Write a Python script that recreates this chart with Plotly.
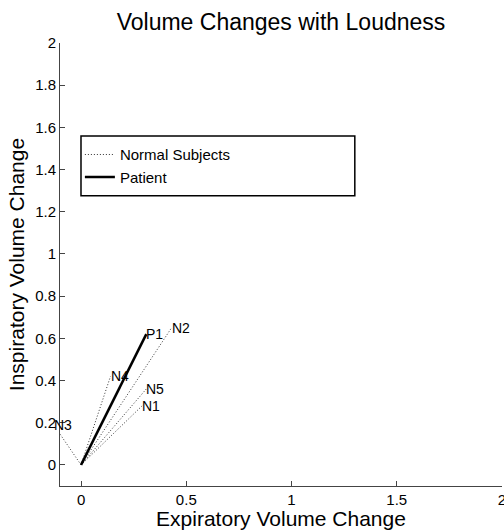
import plotly.graph_objects as go

# Data
normal_labels = ["N1", "N2", "N3", "N4", "N5"]
normal_x = [0.29, 0.43, -0.13, 0.14, 0.31]
normal_y = [0.28, 0.65, 0.19, 0.42, 0.36]
patient_labels = ["P1"]
patient_x = [0.31]
patient_y = [0.62]

x_ticks = [0, 0.5, 1, 1.5, 2]
x_ticktext = ["0", "0.5", "1", "1.5", "2"]
y_ticks = [0, 0.2, 0.4, 0.6, 0.8, 1, 1.2, 1.4, 1.6, 1.8, 2]
y_ticktext = ["0", "0.2", "0.4", "0.6", "0.8", "1", "1.2", "1.4", "1.6", "1.8", "2"]

X_RANGE = [-0.1, 2]
Y_RANGE = [-0.1, 2]

FONT = "Liberation Sans, Arial, sans-serif"

fig = go.Figure()

for i, (lab, xv, yv) in enumerate(zip(normal_labels, normal_x, normal_y)):
    fig.add_trace(go.Scatter(
        x=[0, xv], y=[0, yv], mode="lines",
        line=dict(color="#333", width=1, dash="1px,2px"),
        name="Normal Subjects", legendgroup="normal",
        showlegend=(i == 0),
    ))
for i, (lab, xv, yv) in enumerate(zip(patient_labels, patient_x, patient_y)):
    fig.add_trace(go.Scatter(
        x=[0, xv], y=[0, yv], mode="lines",
        line=dict(color="black", width=2.5),
        name="Patient", legendgroup="patient",
        showlegend=(i == 0),
    ))

for lab, xv, yv in list(zip(normal_labels, normal_x, normal_y)) + list(zip(patient_labels, patient_x, patient_y)):
    if X_RANGE[0] <= xv <= X_RANGE[1]:
        fig.add_annotation(x=xv, y=yv, xref="x", yref="y", text=lab, showarrow=False,
                           xanchor="left", yanchor="middle", xshift=-2,
                           font=dict(family=FONT, size=14, color="black"))
    else:
        # point lies outside the x-range: place label in paper coords of the same scale
        px = (xv - X_RANGE[0]) / (X_RANGE[1] - X_RANGE[0])
        fig.add_annotation(x=px, y=yv, xref="paper", yref="y", text=lab, showarrow=False,
                           xanchor="left", yanchor="middle", xshift=-2,
                           font=dict(family=FONT, size=14, color="black"))

# legend box
fig.add_shape(type="rect", xref="paper", yref="paper",
              x0=0.0475, x1=0.667, y0=0.655, y1=0.79,
              line=dict(color="black", width=1.5), fillcolor="white", layer="below")

fig.update_layout(
    width=504, height=530,
    paper_bgcolor="white", plot_bgcolor="white",
    margin=dict(l=60, r=2, t=43, b=44, autoexpand=False),
    title=dict(text="Volume Changes with Loudness", x=0.5, xref="paper", xanchor="center",
               y=1 - 22 / 530, yanchor="middle",
               font=dict(family=FONT, size=23, color="black")),
    font=dict(family=FONT, size=15, color="black"),
    showlegend=True,
    legend=dict(x=0.045, y=0.785, xanchor="left", yanchor="top",
                bgcolor="rgba(0,0,0,0)", borderwidth=0,
                font=dict(family=FONT, size=15, color="black"),
                tracegroupgap=0, itemwidth=30),
    xaxis=dict(range=X_RANGE, tickvals=x_ticks, ticktext=x_ticktext,
               showgrid=False, zeroline=False, showline=True, automargin=False,
               linecolor="#444", linewidth=1, ticks="inside", ticklen=5,
               tickcolor="#444", tickfont=dict(family=FONT, size=15, color="black"),
               ticklabeloverflow="allow",
               title=dict(text="Expiratory Volume Change", standoff=2,
                          font=dict(family=FONT, size=21, color="black"))),
    yaxis=dict(range=Y_RANGE, tickvals=y_ticks, ticktext=y_ticktext,
               showgrid=False, zeroline=False, showline=True, automargin=False,
               linecolor="#444", linewidth=1, ticks="inside", ticklen=5,
               tickcolor="#444", tickfont=dict(family=FONT, size=15, color="black"),
               ticklabeloverflow="allow",
               title=dict(text="Inspiratory Volume Change", standoff=4,
                          font=dict(family=FONT, size=21, color="black"))),
)

fig.write_html(
    "out.html",
    config={"displayModeBar": False},
    post_script="document.body.style.margin='0px';document.body.style.overflow='hidden';",
)
